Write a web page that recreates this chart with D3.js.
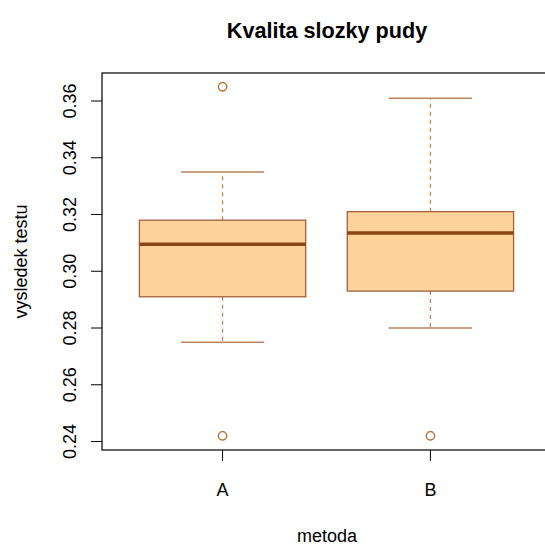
<!DOCTYPE html>
<html>
<head>
<meta charset="utf-8">
<script src="https://cdn.jsdelivr.net/npm/d3@7"></script>
<style>
  body { margin: 0; background: #fff; }
  text { font-family: "Liberation Sans", Arial, sans-serif; }
</style>
</head>
<body>
<svg id="root"></svg>
<script>
// data
const groups = ["A", "B"]
const whiskLow = [0.275, 0.280]
const q1 = [0.291, 0.293]
const medians = [0.3095, 0.3135]
const q3 = [0.318, 0.321]
const whiskHigh = [0.335, 0.361]
const outliers = [[0.365, 0.242], [0.242]]
const yTicks = [0.24, 0.26, 0.28, 0.30, 0.32, 0.34, 0.36]

const W = 545, H = 546
const svg = d3.select("#root").attr("width", W).attr("height", H)

// plot region (right border falls just outside the picture)
const plotL = 102, plotR = 551, plotT = 73, plotB = 450

const xScale = d3.scaleLinear([0.42, 2.58], [plotL, plotR])
const yScale = d3.scaleLinear([0.24, 0.36], [441.5, 101])

const boxHalf = 0.4, capHalf = 0.2
const fill = "#FFD39B", dark = "#8B4513", light = "#B9845E"

groups.forEach((g, i) => {
  const c = i + 1
  const gg = svg.append("g")
  // whiskers
  gg.append("line")
    .attr("x1", xScale(c)).attr("x2", xScale(c))
    .attr("y1", yScale(q3[i])).attr("y2", yScale(whiskHigh[i]))
    .attr("stroke", light).attr("stroke-width", 1.3).attr("stroke-dasharray", "4,4")
  gg.append("line")
    .attr("x1", xScale(c)).attr("x2", xScale(c))
    .attr("y1", yScale(q1[i])).attr("y2", yScale(whiskLow[i]))
    .attr("stroke", light).attr("stroke-width", 1.3).attr("stroke-dasharray", "4,4")
  // caps
  ;[whiskHigh[i], whiskLow[i]].forEach(v => {
    gg.append("line")
      .attr("x1", xScale(c - capHalf)).attr("x2", xScale(c + capHalf))
      .attr("y1", yScale(v)).attr("y2", yScale(v))
      .attr("stroke", light).attr("stroke-width", 1.5)
  })
  // box
  gg.append("rect")
    .attr("x", xScale(c - boxHalf))
    .attr("y", yScale(q3[i]))
    .attr("width", xScale(c + boxHalf) - xScale(c - boxHalf))
    .attr("height", yScale(q1[i]) - yScale(q3[i]))
    .attr("fill", fill).attr("stroke", "#A0603A").attr("stroke-width", 1.3)
  // median
  gg.append("line")
    .attr("x1", xScale(c - boxHalf)).attr("x2", xScale(c + boxHalf))
    .attr("y1", yScale(medians[i])).attr("y2", yScale(medians[i]))
    .attr("stroke", dark).attr("stroke-width", 3.5)
  // outliers
  outliers[i].forEach(v => {
    gg.append("circle")
      .attr("cx", xScale(c)).attr("cy", yScale(v)).attr("r", 4.2)
      .attr("fill", "none").attr("stroke", "#B0652A").attr("stroke-width", 1.3)
  })
})

// frame
svg.append("rect")
  .attr("x", plotL).attr("y", plotT)
  .attr("width", plotR - plotL).attr("height", plotB - plotT)
  .attr("fill", "none").attr("stroke", "#000").attr("stroke-width", 1.2)

// y axis
const yAxis = svg.append("g")
yTicks.forEach(t => {
  yAxis.append("line")
    .attr("x1", plotL - 11).attr("x2", plotL)
    .attr("y1", yScale(t)).attr("y2", yScale(t))
    .attr("stroke", "#000")
  yAxis.append("text")
    .attr("transform", `translate(76,${yScale(t)}) rotate(-90)`)
    .attr("text-anchor", "middle")
    .attr("font-size", 18)
    .text(d3.format(".2f")(t))
})

// x axis
groups.forEach((g, i) => {
  svg.append("line")
    .attr("x1", xScale(i + 1)).attr("x2", xScale(i + 1))
    .attr("y1", plotB).attr("y2", plotB + 11)
    .attr("stroke", "#000")
  svg.append("text")
    .attr("x", xScale(i + 1)).attr("y", 496)
    .attr("text-anchor", "middle").attr("font-size", 18)
    .text(g)
})

// titles
svg.append("text")
  .attr("x", 327).attr("y", 38)
  .attr("text-anchor", "middle").attr("font-size", 21.6).attr("font-weight", "bold")
  .text("Kvalita slozky pudy")
svg.append("text")
  .attr("x", 327).attr("y", 542)
  .attr("text-anchor", "middle").attr("font-size", 18)
  .text("metoda")
svg.append("text")
  .attr("transform", `translate(27,${(plotT + plotB) / 2}) rotate(-90)`)
  .attr("text-anchor", "middle").attr("font-size", 18)
  .text("vysledek testu")
</script>
</body>
</html>
